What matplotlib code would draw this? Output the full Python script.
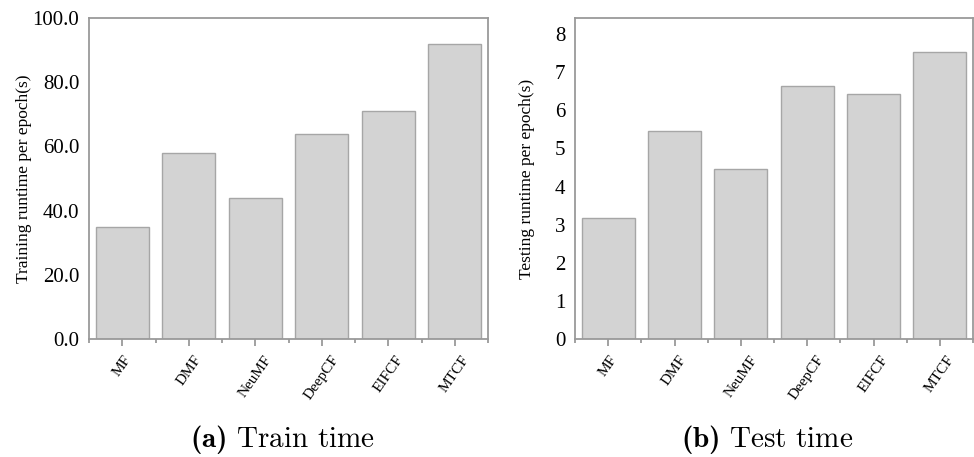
import numpy as np
import matplotlib
matplotlib.use("Agg")
import matplotlib.pyplot as plt
from matplotlib.ticker import FixedLocator, FormatStrFormatter

# --- data ---
models = ["MF", "DMF", "NeuMF", "DeepCF", "EIFCF", "MTCF"]
train_time = [35.0, 58.0, 44.0, 64.0, 71.0, 92.0]
test_time = [3.17, 5.45, 4.45, 6.64, 6.43, 7.53]
train_ticks = [0, 20, 40, 60, 80, 100]
test_ticks = [0, 1, 2, 3, 4, 5, 6, 7, 8]

plt.rcParams["font.family"] = ["Liberation Serif", "DejaVu Serif"]
plt.rcParams["mathtext.fontset"] = "custom"
plt.rcParams["mathtext.rm"] = "cmr10"
plt.rcParams["mathtext.bf"] = "cmb10"
SPINE = "#9a9a9a"
BAR_FILL = "#d3d3d3"
BAR_EDGE = "#a6a6a6"

fig = plt.figure(figsize=(9.74, 4.57), dpi=100)
ax_train = fig.add_axes([89 / 974, 118 / 457, 399 / 974, 321 / 457])
ax_test = fig.add_axes([575 / 974, 118 / 457, 398 / 974, 321 / 457])


def style_panel(ax, values, yticks, ylim, fmt, ylabel, label_x):
  x = np.arange(len(models))
  ax.bar(x, values, width=0.8, color=BAR_FILL, edgecolor=BAR_EDGE, linewidth=1.0, zorder=2)
  ax.set_xlim(-0.5, len(models) - 0.5)
  ax.set_ylim(*ylim)
  ax.set_yticks(yticks)
  ax.yaxis.set_major_formatter(FormatStrFormatter(fmt))
  ax.set_xticks(x)
  ax.set_xticklabels(models, rotation=55, ha="center", fontsize=11)
  ax.xaxis.set_minor_locator(FixedLocator(np.arange(-0.5, len(models), 1.0)))
  for s in ax.spines.values():
    s.set_color(SPINE)
    s.set_linewidth(1.3)
  ax.tick_params(axis="x", which="major", length=5, width=1.3, color=SPINE, pad=5)
  ax.tick_params(axis="x", which="minor", length=3, width=1.3, color=SPINE)
  ax.tick_params(axis="y", which="major", length=0, pad=7, labelsize=15)
  ax.set_ylabel(ylabel, fontsize=12.5)
  ax.yaxis.set_label_coords(label_x, 0.5)


style_panel(ax_train, train_time, train_ticks, (0, 100), "%.1f",
            "Training runtime per epoch(s)", -0.143)
style_panel(ax_test, test_time, test_ticks, (0, 8.42), "%d",
            "Testing runtime per epoch(s)", -0.10)

fig.text(282 / 974, 1 - 440 / 457, r"$\mathbf{(a)}\ \mathrm{Train\ time}$",
         ha="center", va="center", fontsize=21)
fig.text(767 / 974, 1 - 440 / 457, r"$\mathbf{(b)}\ \mathrm{Test\ time}$",
         ha="center", va="center", fontsize=21)

fig.savefig("out.png", dpi=100)
